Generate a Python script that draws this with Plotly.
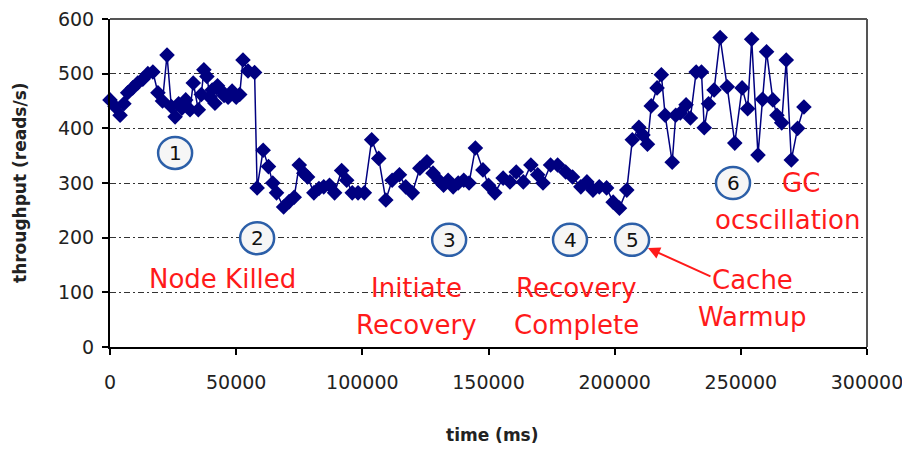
import plotly.graph_objects as go

# ---- data ----
time_ms = [0, 2000, 4000, 5500, 7000, 9000, 11000, 13000, 15000, 17000, 19000, 20800,
           22600, 24300, 25800, 27200, 28500, 30000, 31700, 33000, 35000, 36200, 37200,
           38400, 39600, 40500, 41600, 42600, 43800, 45200, 46800, 48400, 50000, 51400,
           52700, 54700, 57300,
           58300, 60700, 62800, 64500, 66000, 68800, 71000, 73000, 75000, 76800, 78300,
           80800, 82800, 84700, 87000, 89000, 91800, 93800, 96000, 98300, 100800, 103700,
           106500, 109300, 111800, 114700, 117200, 119800, 122800, 125600, 128000, 130300,
           132200, 134000, 136000, 138000, 140200, 142300, 144800,
           147800, 150000, 152500, 155800, 158500, 161000, 163800, 166800, 169500, 171600,
           174600, 177400, 180600, 183300, 186600, 189000, 191400, 193900, 196800, 199400,
           201900, 204800,
           207000, 209600, 211200, 213000, 214500, 216800, 218500, 220000, 222800, 224200,
           226000, 228300, 230000, 232300, 234400, 235500, 237200, 239400, 241800, 244600,
           247600, 250500, 252700, 254300, 256800, 258600, 260200, 262700, 264300, 266200,
           268000, 270000, 272500, 275000]
throughput = [452, 440, 424, 445, 465, 474, 483, 490, 500, 503, 465, 450,
              534, 440, 421, 445, 437, 452, 434, 483, 434, 462, 507,
              495, 457, 470, 446, 478, 470, 460, 457, 468, 457, 462,
              525, 505, 502,
              291, 360, 330, 300, 282, 256, 266, 274, 333, 318, 311,
              282, 290, 293, 296, 282, 323, 305, 282, 282, 282, 379,
              345, 269, 305, 315, 293, 282, 327, 339, 318, 305,
              296, 305, 293, 300, 305, 300, 364,
              324, 296, 282, 309, 302, 320, 302, 333, 315, 300,
              333, 333, 320, 311, 293, 302, 287, 293, 291, 265,
              254, 287,
              379, 402, 388, 371, 441, 474, 498, 424, 338, 424,
              428, 443, 419, 503, 503, 401, 445, 470, 566, 476,
              373, 474, 436, 563, 351, 453, 540, 452, 424, 410,
              525, 342, 400, 439]

x_ticks = [0, 50000, 100000, 150000, 200000, 250000, 300000]
y_ticks = [0, 100, 200, 300, 400, 500, 600]

# phase markers
phase_ids = ["1", "2", "3", "4", "5", "6"]
phase_x = [25800, 58300, 134400, 182300, 206900, 246900]
phase_y = [355, 199, 196, 196, 196, 300]

# red text labels
label_text = ["Node Killed", "Initiate", "Recovery", "Recovery", "Complete",
              "Cache", "Warmup", "GC", "ocscillation"]
label_x = [44400, 121300, 121300, 184700, 184700, 254500, 254500, 274000, 268300]
label_y = [124, 108, 40, 108, 40, 123, 55, 300, 232]

NAVY = "#000080"
RED = "#ff1a1a"
TICKFONT = dict(family="DejaVu Sans", size=19, color="#222222")

fig = go.Figure()
fig.add_trace(go.Scatter(
    x=time_ms, y=throughput, mode="lines+markers",
    line=dict(color=NAVY, width=1.5),
    marker=dict(symbol="diamond", size=12, color=NAVY),
    cliponaxis=False, showlegend=False, hoverinfo="skip"))

grid = dict(showgrid=True, gridcolor="#333333", gridwidth=1, griddash="6px,3px,2px,3px")

fig.update_xaxes(range=[0, 300000], tickvals=x_ticks,
                 ticktext=[str(v) for v in x_ticks],
                 ticks="outside", ticklen=6, tickwidth=1.5, tickcolor="black",
                 showline=True, linecolor="black", linewidth=2,
                 showgrid=False, zeroline=False, tickfont=TICKFONT,
                 ticklabelstandoff=11, ticklabeloverflow="allow")
fig.update_yaxes(range=[0, 600], tickvals=y_ticks,
                 ticks="outside", ticklen=6, tickwidth=1.5, tickcolor="black",
                 showline=True, linecolor="black", linewidth=2,
                 zeroline=False, tickfont=TICKFONT, ticklabelstandoff=4,
                 ticklabeloverflow="allow", **grid)

shapes = [
    dict(type="line", xref="paper", yref="paper", x0=0, x1=1, y0=1, y1=1,
         line=dict(color="#555555", width=2), layer="above"),
    dict(type="line", xref="paper", yref="paper", x0=1, x1=1, y0=0, y1=1,
         line=dict(color="#555555", width=2), layer="above"),
]
annotations = []
for pid, px, py in zip(phase_ids, phase_x, phase_y):
    shapes.append(dict(type="circle", xref="x", yref="y",
                       xsizemode="pixel", ysizemode="pixel",
                       xanchor=px, yanchor=py, x0=-17, x1=17, y0=-16, y1=16,
                       fillcolor="#f6f6f6", line=dict(color="#2c5fa8", width=2.5),
                       layer="above"))
    annotations.append(dict(x=px, y=py, xref="x", yref="y", text=pid,
                            showarrow=False, xanchor="center", yanchor="middle",
                            font=dict(family="DejaVu Sans", size=20, color="#111111")))

for t, lx, ly in zip(label_text, label_x, label_y):
    annotations.append(dict(x=lx, y=ly, xref="x", yref="y", text=t, showarrow=False,
                            xanchor="center", yanchor="middle",
                            font=dict(family="DejaVu Sans", size=26, color=RED)))

# arrow from "Cache" label to circle 5
annotations.append(dict(x=213200, y=181, xref="x", yref="y", ax=64, ay=29,
                        text="", showarrow=True, arrowhead=2, arrowsize=1.2,
                        arrowwidth=2, arrowcolor=RED))

# axis titles
annotations.append(dict(x=0, y=0.5, xref="paper", yref="paper", xshift=-90,
                        text="throughput (reads/s)", textangle=-90, showarrow=False,
                        xanchor="center", yanchor="middle",
                        font=dict(family="DejaVu Sans", size=17, color="#222222",
                                  weight="bold")))
annotations.append(dict(x=0.505, y=0, xref="paper", yref="paper", yshift=-88,
                        text="time (ms)", showarrow=False,
                        xanchor="center", yanchor="middle",
                        font=dict(family="DejaVu Sans", size=17, color="#222222",
                                  weight="bold")))

fig.update_layout(width=910, height=449,
                  margin=dict(l=102, r=51, t=11, b=110, autoexpand=False),
                  paper_bgcolor="white", plot_bgcolor="white",
                  shapes=shapes, annotations=annotations)

fig.write_html("out.html")
